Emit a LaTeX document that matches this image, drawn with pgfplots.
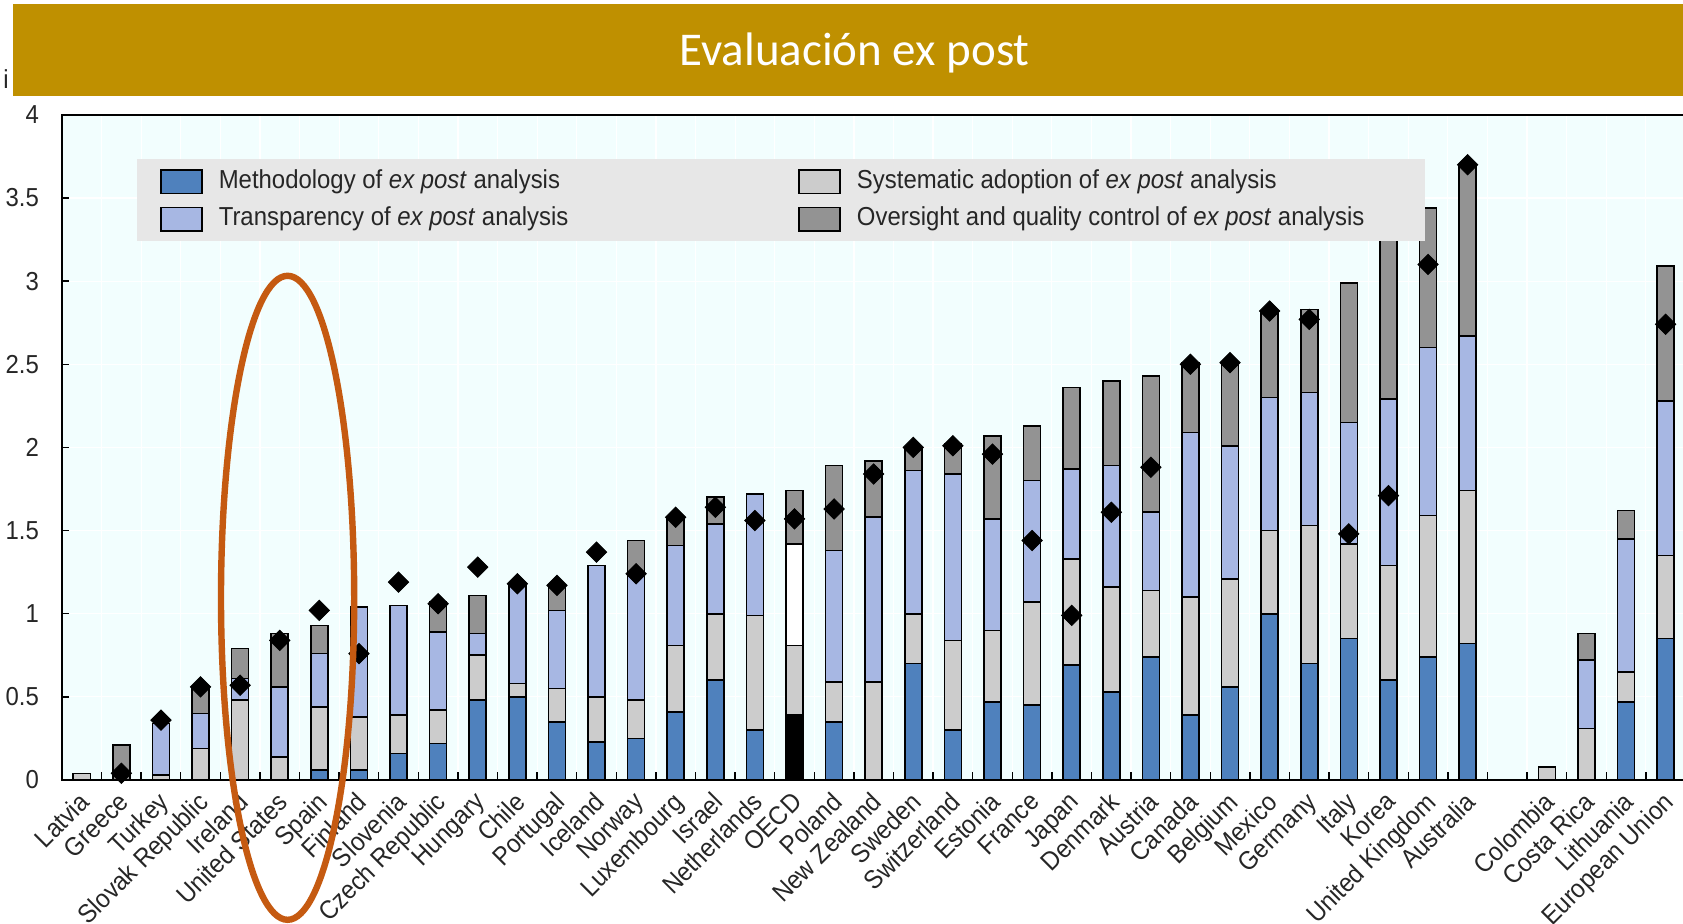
\documentclass[border=0pt]{standalone}
\usepackage{pgfplots}
\usepackage{pgfplotstable}
\pgfplotsset{compat=1.18}
\usepackage{fontspec}
\setmainfont{Liberation Sans}[FakeStretch=0.92]
\newfontfamily\titlefont{Carlito}

\definecolor{cblue}{RGB}{79,129,189}
\definecolor{clblue}{RGB}{167,183,227}
\definecolor{clgray}{RGB}{204,204,204}
\definecolor{cdgray}{RGB}{147,147,147}
\definecolor{cbg}{RGB}{242,254,254}
\definecolor{clegend}{RGB}{231,231,231}
\definecolor{cgold}{RGB}{191,144,0}
\definecolor{corange}{RGB}{197,90,17}

\pgfplotstableread{
x M S T O OM OS OT OO
0 0 0.04 0 0 0 0 0 0
1 0 0 0 0.21 0 0 0 0
2 0 0.03 0.31 0 0 0 0 0
3 0 0.19 0.21 0.16 0 0 0 0
4 0 0.48 0.13 0.18 0 0 0 0
5 0 0.14 0.42 0.32 0 0 0 0
6 0.06 0.38 0.32 0.17 0 0 0 0
7 0.06 0.32 0.66 0 0 0 0 0
8 0.16 0.23 0.66 0 0 0 0 0
9 0.22 0.20 0.47 0.18 0 0 0 0
10 0.48 0.27 0.13 0.23 0 0 0 0
11 0.50 0.08 0.59 0 0 0 0 0
12 0.35 0.20 0.47 0.15 0 0 0 0
13 0.23 0.27 0.79 0 0 0 0 0
14 0.25 0.23 0.77 0.19 0 0 0 0
15 0.41 0.40 0.60 0.17 0 0 0 0
16 0.60 0.40 0.54 0.16 0 0 0 0
17 0.30 0.69 0.73 0 0 0 0 0
18 0 0 0 0 0.39 0.42 0.61 0.32
19 0.35 0.24 0.79 0.51 0 0 0 0
20 0 0.59 0.99 0.34 0 0 0 0
21 0.70 0.30 0.86 0.13 0 0 0 0
22 0.30 0.54 1.00 0.18 0 0 0 0
23 0.47 0.43 0.67 0.50 0 0 0 0
24 0.45 0.62 0.73 0.33 0 0 0 0
25 0.69 0.64 0.54 0.49 0 0 0 0
26 0.53 0.63 0.73 0.51 0 0 0 0
27 0.74 0.40 0.47 0.82 0 0 0 0
28 0.39 0.71 0.99 0.42 0 0 0 0
29 0.56 0.65 0.80 0.50 0 0 0 0
30 1.00 0.50 0.80 0.52 0 0 0 0
31 0.70 0.83 0.80 0.50 0 0 0 0
32 0.85 0.57 0.73 0.84 0 0 0 0
33 0.60 0.69 1.00 1.11 0 0 0 0
34 0.74 0.85 1.01 0.84 0 0 0 0
35 0.82 0.92 0.93 1.03 0 0 0 0
36 0 0 0 0 0 0 0 0
37 0 0.08 0 0 0 0 0 0
38 0 0.31 0.41 0.16 0 0 0 0
39 0.47 0.18 0.80 0.17 0 0 0 0
40 0.85 0.50 0.93 0.81 0 0 0 0
}\bars

\pgfplotstableread{
x d
1 0.04
2 0.36
3 0.56
4 0.57
5 0.84
6 1.02
7 0.76
8 1.19
9 1.06
10 1.28
11 1.18
12 1.17
13 1.37
14 1.24
15 1.58
16 1.64
17 1.56
18 1.57
19 1.63
20 1.84
21 2.00
22 2.01
23 1.96
24 1.44
25 0.99
26 1.61
27 1.88
28 2.50
29 2.51
30 2.82
31 2.77
32 1.48
33 1.71
34 3.10
35 3.70
40 2.74
}\diam

\begin{document}
\begin{tikzpicture}
\path[use as bounding box] (0,0) rectangle (841.5pt,461.5pt);
\clip (0,0) rectangle (841.5pt,461.5pt);

\node[anchor=base west, inner sep=0pt, font=\fontsize{13}{13}\selectfont, text=black!85] at (1.5pt,417pt) {i};

\begin{axis}[
  at={(31pt,71.5pt)}, anchor=south west,
  scale only axis, width=815pt, height=332.6pt,
  xmin=-0.5, xmax=40.667, ymin=0, ymax=4,
  ybar stacked, bar width=0.43,
  axis background/.style={fill=cbg},
  axis line style={black, line width=0.8pt},
  every axis plot/.append style={draw=black, line width=0.8pt},
  ytick={0,0.5,...,4}, ytick pos=left, xtick pos=bottom,
  tick align=inside,
  major tick length=3.5pt, minor tick length=4pt,
  xtick={0,1,...,35,37,38,39,40},
  xticklabels={Latvia,Greece,Turkey,Slovak Republic,Ireland,United States,Spain,Finland,Slovenia,Czech Republic,Hungary,Chile,Portugal,Iceland,Norway,Luxembourg,Israel,Netherlands,OECD,Poland,New Zealand,Sweden,Switzerland,Estonia,France,Japan,Denmark,Austria,Canada,Belgium,Mexico,Germany,Italy,Korea,United Kingdom,Australia,Colombia,Costa Rica,Lithuania,European Union},
  minor xtick={-0.5,0.5,...,40.5},
  major x tick style={draw=none},
  minor x tick style={black, line width=0.7pt},
  y tick style={black, line width=0.7pt},
  xminorgrids=true, ymajorgrids=true,
  minor x grid style={white, line width=0.6pt},
  major y grid style={white, line width=0.6pt},
  /pgf/number format/assume math mode=true,
  yticklabel style={font=\fontsize{13}{13}\selectfont, text=black!85, xshift=-8pt},
  xticklabel style={xshift=-2pt, yshift=-3pt, rotate=45, anchor=north east, inner sep=1.5pt, font=\fontsize{13}{13}\selectfont, text=black!85},
  legend columns=2,
  legend cell align=left,
  legend image code/.code={\draw[#1, draw=black, line width=0.8pt] (0pt,-5.9pt) rectangle (20.5pt,5.9pt);},
  legend style={at={(0.0460,0.9336)}, anchor=north west, fill=clegend, draw=none,
    font=\fontsize{13}{13}\selectfont, text=black!85,
    inner xsep=11.4pt, inner ysep=3pt, row sep=2.6pt,
    nodes={text height=9.5pt, text depth=2.7pt},
    /tikz/column 1/.style={column sep=6pt},
    /tikz/column 2/.style={column sep=113pt},
    /tikz/column 3/.style={column sep=6pt}},
]
\addplot[fill=cblue] table[x=x,y=M]{\bars};
\addlegendentry{Methodology of \textit{ex post} analysis}
\addplot[fill=clgray] table[x=x,y=S]{\bars};
\addlegendentry{Systematic adoption of \textit{ex post} analysis}
\addplot[fill=clblue] table[x=x,y=T]{\bars};
\addlegendentry{Transparency of \textit{ex post} analysis}
\addplot[fill=cdgray] table[x=x,y=O]{\bars};
\addlegendentry{Oversight and quality control of \textit{ex post} analysis\rule{17pt}{0pt}}
\addplot[fill=black, forget plot] table[x=x,y=OM]{\bars};
\addplot[fill=clgray, forget plot] table[x=x,y=OS]{\bars};
\addplot[fill=white, forget plot] table[x=x,y=OT]{\bars};
\addplot[fill=cdgray, forget plot] table[x=x,y=OO]{\bars};
\end{axis}

\begin{axis}[
  at={(31pt,71.5pt)}, anchor=south west,
  scale only axis, width=815pt, height=332.6pt,
  xmin=-0.5, xmax=40.667, ymin=0, ymax=4,
  hide axis]
\addplot[only marks, mark=square*, mark size=3.6pt, mark options={rotate=45, fill=black, draw=black}] table[x=x,y=d]{\diam};
\end{axis}

\fill[cgold] (6.5pt,413.7pt) rectangle (841.5pt,459.5pt);
\node[anchor=base, text=white, inner sep=0pt, font=\titlefont\fontsize{23.5}{28}\selectfont] at (427.3pt,428.5pt) {Evaluación ex post};

\draw[corange, line width=3.2pt] (143.8pt,162.6pt) ellipse [x radius=33.3pt, y radius=161pt];
\end{tikzpicture}
\end{document}
